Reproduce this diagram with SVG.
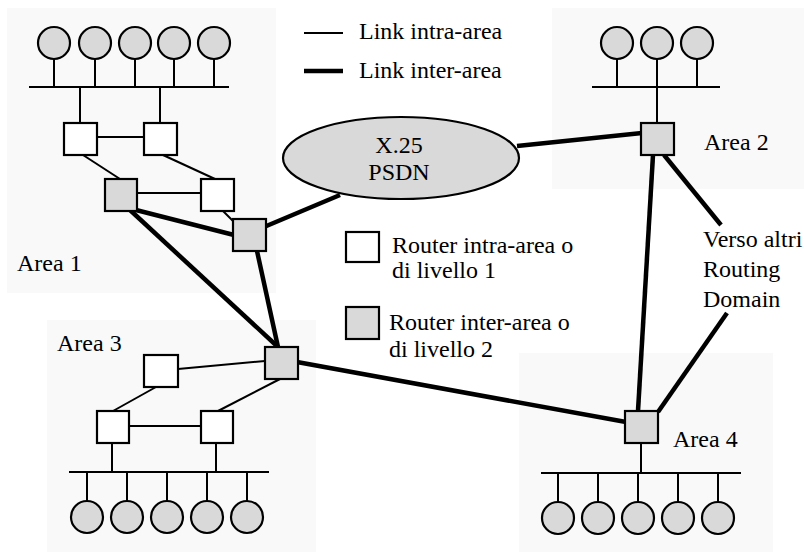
<svg xmlns="http://www.w3.org/2000/svg" width="804" height="552" viewBox="0 0 804 552">
<style>
.bg{fill:#f9f9f9;stroke:none}
.thin{stroke:#000;stroke-width:2;fill:none}
.thick{stroke:#000;stroke-width:4.5;fill:none}
.host{fill:#d9d9d9;stroke:#000;stroke-width:2.2}
.rw{fill:#fff;stroke:#000;stroke-width:2.2}
.rg{fill:#d9d9d9;stroke:#000;stroke-width:2.2}
text{font-family:"Liberation Serif","Times New Roman",serif;font-size:24px;fill:#000}
</style>
<rect width="804" height="552" fill="#fff"/>
<g id="areas">
<rect id="area1-bg" class="bg" x="7" y="8" width="269" height="285"/>
<rect id="area2-bg" class="bg" x="552" y="8" width="252" height="181"/>
<rect id="area3-bg" class="bg" x="47" y="320" width="269" height="232"/>
<rect id="area4-bg" class="bg" x="519" y="353" width="254" height="199"/>
</g>
<g id="connectors">
<!-- area 1 -->
<line class="thin" x1="29" y1="87" x2="229" y2="87"/>
<line class="thin" x1="54" y1="59" x2="54" y2="87"/>
<line class="thin" x1="95" y1="59" x2="95" y2="87"/>
<line class="thin" x1="135" y1="59" x2="135" y2="87"/>
<line class="thin" x1="174" y1="59" x2="174" y2="87"/>
<line class="thin" x1="214" y1="59" x2="214" y2="87"/>
<line class="thin" x1="80" y1="87" x2="80" y2="123"/>
<line class="thin" x1="160" y1="87" x2="160" y2="123"/>
<line class="thin" x1="98" y1="137" x2="144" y2="137"/>
<line class="thin" x1="83" y1="155" x2="120" y2="179"/>
<line class="thin" x1="163" y1="155" x2="215" y2="179"/>
<line class="thin" x1="137" y1="193" x2="201" y2="193"/>
<line class="thin" x1="223" y1="211" x2="234" y2="222"/>
<!-- area 2 -->
<line class="thin" x1="592" y1="87" x2="720" y2="87"/>
<line class="thin" x1="617" y1="59" x2="617" y2="87"/>
<line class="thin" x1="657" y1="59" x2="657" y2="123"/>
<line class="thin" x1="697" y1="59" x2="697" y2="87"/>
<!-- area 3 -->
<line class="thin" x1="178" y1="369" x2="265" y2="361"/>
<line class="thin" x1="156" y1="387" x2="113" y2="411"/>
<line class="thin" x1="280" y1="379" x2="218" y2="411"/>
<line class="thin" x1="129" y1="426" x2="201" y2="426"/>
<line class="thin" x1="112" y1="443" x2="112" y2="472"/>
<line class="thin" x1="216" y1="443" x2="216" y2="472"/>
<line class="thin" x1="69" y1="472" x2="269" y2="472"/>
<line class="thin" x1="87" y1="472" x2="87" y2="501"/>
<line class="thin" x1="127" y1="472" x2="127" y2="501"/>
<line class="thin" x1="167" y1="472" x2="167" y2="501"/>
<line class="thin" x1="207" y1="472" x2="207" y2="501"/>
<line class="thin" x1="247" y1="472" x2="247" y2="501"/>
<!-- area 4 -->
<line class="thin" x1="641" y1="443" x2="641" y2="473"/>
<line class="thin" x1="541" y1="473" x2="741" y2="473"/>
<line class="thin" x1="558" y1="473" x2="558" y2="502"/>
<line class="thin" x1="598" y1="473" x2="598" y2="502"/>
<line class="thin" x1="638" y1="473" x2="638" y2="502"/>
<line class="thin" x1="678" y1="473" x2="678" y2="502"/>
<line class="thin" x1="718" y1="473" x2="718" y2="502"/>
<!-- inter-area -->
<line class="thick" x1="136" y1="210" x2="234" y2="235"/>
<line class="thick" x1="130" y1="210" x2="278" y2="347"/>
<line class="thick" x1="257" y1="251" x2="278" y2="347"/>
<line class="thick" x1="264" y1="227" x2="340" y2="195"/>
<line class="thick" x1="517" y1="146" x2="642" y2="133"/>
<line class="thick" x1="297" y1="362" x2="626" y2="422"/>
<line class="thick" x1="653" y1="155" x2="638" y2="411"/>
<line class="thick" x1="664" y1="155" x2="721" y2="225"/>
<line class="thick" x1="727" y1="313" x2="658" y2="412"/>
</g>
<g id="hosts">
<circle class="host" cx="54" cy="43" r="16"/>
<circle class="host" cx="95" cy="43" r="16"/>
<circle class="host" cx="135" cy="43" r="16"/>
<circle class="host" cx="174" cy="43" r="16"/>
<circle class="host" cx="214" cy="43" r="16"/>
<circle class="host" cx="617" cy="43" r="16"/>
<circle class="host" cx="657" cy="43" r="16"/>
<circle class="host" cx="697" cy="43" r="16"/>
<circle class="host" cx="87" cy="517" r="16"/>
<circle class="host" cx="127" cy="517" r="16"/>
<circle class="host" cx="167" cy="517" r="16"/>
<circle class="host" cx="207" cy="517" r="16"/>
<circle class="host" cx="247" cy="517" r="16"/>
<circle class="host" cx="558" cy="518" r="16"/>
<circle class="host" cx="598" cy="518" r="16"/>
<circle class="host" cx="638" cy="518" r="16"/>
<circle class="host" cx="678" cy="518" r="16"/>
<circle class="host" cx="718" cy="518" r="16"/>
</g>
<g id="x25">
<ellipse cx="401" cy="158" rx="118" ry="41" fill="#d9d9d9" stroke="#000" stroke-width="2.2"/>
<text x="399" y="153" text-anchor="middle">X.25</text>
<text x="399" y="180" text-anchor="middle">PSDN</text>
</g>
<g id="routers">
<rect id="r1a" class="rw" x="64" y="123" width="33" height="32"/>
<rect id="r1b" class="rw" x="144" y="123" width="33" height="32"/>
<rect id="r1c" class="rg" x="105" y="179" width="32" height="32"/>
<rect id="r1d" class="rw" x="201" y="179" width="33" height="32"/>
<rect id="r1e" class="rg" x="233" y="219" width="33" height="32"/>
<rect id="r2" class="rg" x="641" y="123" width="33" height="32"/>
<rect id="r3a" class="rw" x="144" y="355" width="34" height="32"/>
<rect id="r3b" class="rg" x="265" y="347" width="33" height="32"/>
<rect id="r3c" class="rw" x="97" y="411" width="32" height="32"/>
<rect id="r3d" class="rw" x="201" y="411" width="32" height="32"/>
<rect id="r4" class="rg" x="625" y="411" width="33" height="32"/>
</g>
<g id="labels">
<text x="17" y="271">Area 1</text>
<text x="704" y="150">Area 2</text>
<text x="57" y="351">Area 3</text>
<text x="673" y="447">Area 4</text>
<text x="703" y="247">Verso altri</text>
<text x="703" y="277">Routing</text>
<text x="703" y="307">Domain</text>
</g>
<g id="legend">
<line class="thin" x1="304" y1="33" x2="343" y2="33"/>
<line class="thick" x1="304" y1="71" x2="343" y2="71"/>
<text x="359" y="39">Link intra-area</text>
<text x="359" y="78">Link inter-area</text>
<rect class="rw" x="346" y="232" width="33" height="30"/>
<text x="392" y="253">Router intra-area o</text>
<text x="392" y="278">di livello 1</text>
<rect class="rg" x="346" y="307" width="33" height="32"/>
<text x="389" y="330">Router inter-area o</text>
<text x="389" y="357">di livello 2</text>
</g>
</svg>
